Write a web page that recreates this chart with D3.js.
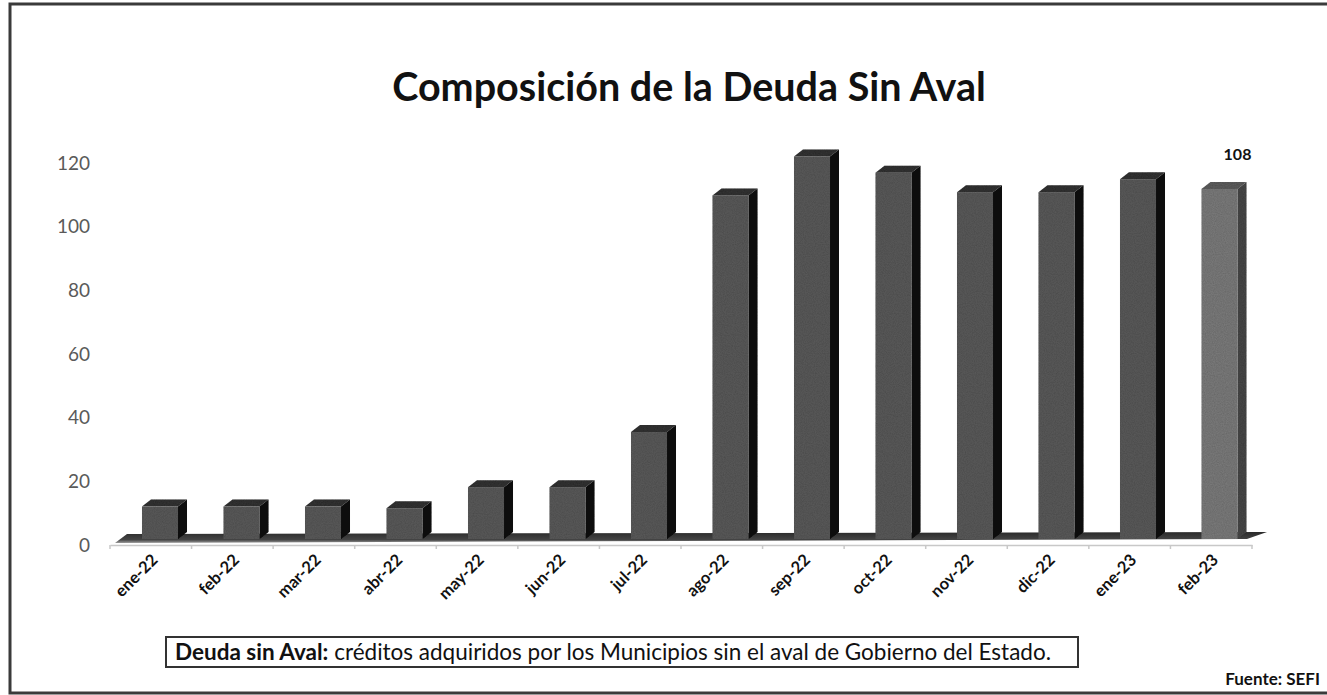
<!DOCTYPE html>
<html>
<head>
<meta charset="utf-8">
<script src="https://cdn.jsdelivr.net/npm/d3@7"></script>
<style>
  html, body { margin: 0; padding: 0; background: #fff; }
  svg { display: block; }
  text { font-family: Lato, "Open Sans", sans-serif; }
</style>
</head>
<body>
<svg id="chart" width="1327" height="695"></svg>
<script>
// ---- data ----
const categories = ["ene-22","feb-22","mar-22","abr-22","may-22","jun-22","jul-22","ago-22","sep-22","oct-22","nov-22","dic-22","ene-23","feb-23"];
const values = [10, 10, 10, 9.5, 16, 16, 33, 106, 118, 113, 107, 107, 111, 108];
const yTicks = [0, 20, 40, 60, 80, 100, 120];
const titleText = "Composición de la Deuda Sin Aval";
const labelValue = "108";
const noteBold = "Deuda sin Aval:";
const noteText = " créditos adquiridos por los Municipios sin el aval de Gobierno del Estado.";
const sourceText = "Fuente: SEFI";

const svg = d3.select("#chart");
const W = 1327, H = 695;

// texture filter
const defs = svg.append("defs");
const f = defs.append("filter").attr("id", "grain").attr("x", 0).attr("y", 0).attr("width", 1).attr("height", 1);
f.append("feTurbulence").attr("type", "fractalNoise").attr("baseFrequency", 0.9).attr("numOctaves", 2).attr("seed", 3).attr("result", "noise");
f.append("feColorMatrix").attr("in", "noise").attr("type", "matrix")
  .attr("values", "0 0 0 0 0  0 0 0 0 0  0 0 0 0 0  0 0 0 0.35 0").attr("result", "dots");
f.append("feComposite").attr("in", "dots").attr("in2", "SourceGraphic").attr("operator", "in").attr("result", "dotsIn");
f.append("feMerge").selectAll("feMergeNode").data(["SourceGraphic", "dotsIn"]).enter()
  .append("feMergeNode").attr("in", d => d);

const floorGrad = defs.append("linearGradient").attr("id", "floorG").attr("x1", 0).attr("y1", 0).attr("x2", 0).attr("y2", 1);
floorGrad.append("stop").attr("offset", "0%").attr("stop-color", "#2a2a2a");
floorGrad.append("stop").attr("offset", "70%").attr("stop-color", "#444");
floorGrad.append("stop").attr("offset", "100%").attr("stop-color", "#9a9a9a");

// frame
svg.append("path")
  .attr("d", `M${W + 5},4 L10,4 L10,693 L${W + 5},693`)
  .attr("fill", "none").attr("stroke", "#3a3a3a").attr("stroke-width", 3);

// title
svg.append("text").attr("x", 689).attr("y", 101).attr("text-anchor", "middle")
  .attr("font-size", 39.5).attr("font-weight", 700).attr("fill", "#111").text(titleText);

// scales
const yAxisScale = d3.scaleLinear().domain([0, 120]).range([545, 163]);   // back wall
const yBar = d3.scaleLinear().domain([0, 120]).range([539, 150]);          // front faces
const step = 81.5;
const x0 = 119.25;
const xBar = d3.scaleBand().domain(categories).range([x0, x0 + step * categories.length])
  .paddingInner(0.558).paddingOuter(0.279);
const xAxisScale = d3.scaleBand().domain(categories).range([110, 1252]);

// y axis labels
const yAxis = d3.axisLeft(yAxisScale).tickValues(yTicks).tickSize(0).tickPadding(0);
const gy = svg.append("g").attr("transform", "translate(90,0)").call(yAxis);
gy.select(".domain").remove();
gy.selectAll("text").attr("font-size", 19).attr("fill", "#5a5a5a").attr("font-family", "Lato, sans-serif")
  .attr("font-weight", 400);

// x axis line + ticks (light gray)
const xAxis = d3.axisBottom(xAxisScale).tickSize(0).tickFormat("");
const gx = svg.append("g").attr("transform", "translate(0,545)").call(xAxis);
gx.select(".domain").attr("stroke", "#c8c8c8").attr("stroke-width", 1.5);
const boundaries = d3.range(categories.length + 1).map(i => 110 + i * xAxisScale.step());
gx.selectAll(".bt").data(boundaries).enter().append("line").attr("class", "bt")
  .attr("x1", d => d).attr("x2", d => d).attr("y1", 0).attr("y2", 4)
  .attr("stroke", "#c8c8c8").attr("stroke-width", 1.5);

// floor
svg.append("path")
  .attr("d", "M127,534 L1267,532 L1247,539 L115,543 Z")
  .attr("fill", "url(#floorG)");

// 3D bars
const dx = 9, dy = -7;
const bw = xBar.bandwidth();
const bars = svg.append("g").selectAll("g").data(categories.map((c, i) => ({c, v: values[i], i}))).enter().append("g")
  .attr("filter", "url(#grain)");
const isLast = d => d.i === categories.length - 1;
bars.append("path") // side
  .attr("d", d => {
    const x = xBar(d.c) + bw, yt = yBar(d.v), yb = yBar(0);
    return `M${x},${yt} L${x + dx},${yt + dy} L${x + dx},${yb + dy} L${x},${yb} Z`;
  })
  .attr("fill", d => isLast(d) ? "#4a4a4a" : "#151515");
bars.append("path") // top
  .attr("d", d => {
    const x = xBar(d.c), yt = yBar(d.v);
    return `M${x},${yt} L${x + dx},${yt + dy} L${x + bw + dx},${yt + dy} L${x + bw},${yt} Z`;
  })
  .attr("fill", d => isLast(d) ? "#5e5e5e" : "#353535");
bars.append("rect") // front
  .attr("x", d => xBar(d.c)).attr("y", d => yBar(d.v))
  .attr("width", bw).attr("height", d => yBar(0) - yBar(d.v))
  .attr("fill", d => isLast(d) ? "#7d7d7d" : "#5b5b5b");

// value label for last bar
const lastC = categories[categories.length - 1];
svg.append("text")
  .attr("x", xBar(lastC) + bw / 2 + 18).attr("y", yBar(values[values.length - 1]) - 29)
  .attr("text-anchor", "middle").attr("font-size", 16).attr("font-weight", 700).attr("fill", "#111")
  .text(labelValue);

// x labels rotated
svg.append("g").selectAll("text").data(categories).enter().append("text")
  .attr("transform", d => `translate(${xAxisScale(d) + xAxisScale.bandwidth() / 2 + 8},561) rotate(-45)`)
  .attr("text-anchor", "end").attr("font-size", 16.5).attr("font-weight", 700).attr("fill", "#111")
  .text(d => d);

// note box
svg.append("rect").attr("x", 166).attr("y", 637).attr("width", 912).attr("height", 30)
  .attr("fill", "#fff").attr("stroke", "#333").attr("stroke-width", 2);
const note = svg.append("text").attr("x", 175).attr("y", 660).attr("font-size", 22.5).attr("fill", "#111");
note.append("tspan").attr("font-weight", 700).text(noteBold);
note.append("tspan").text(noteText);

// source
svg.append("text").attr("x", 1320).attr("y", 685).attr("text-anchor", "end")
  .attr("font-size", 17).attr("font-weight", 700).attr("fill", "#111").text(sourceText);
</script>
</body>
</html>
